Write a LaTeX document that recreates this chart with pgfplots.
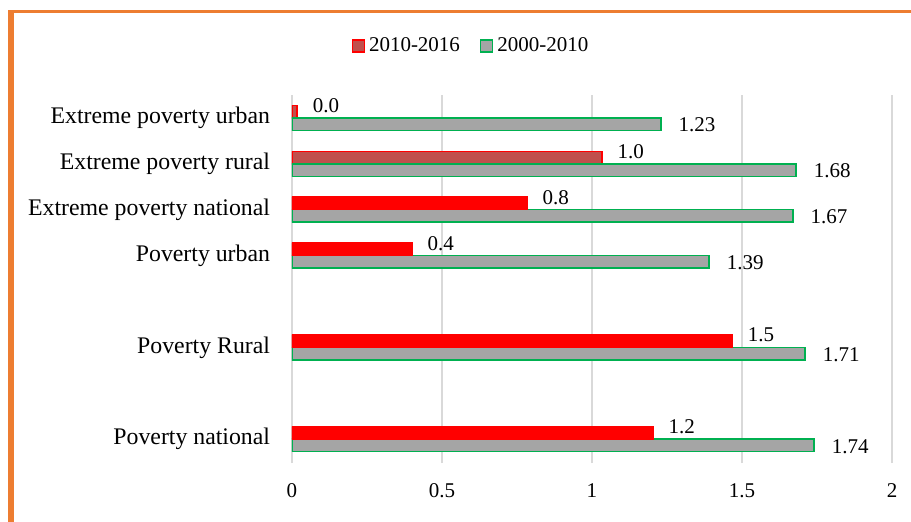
\documentclass[border=0pt]{standalone}
\usepackage{fontspec}
\setmainfont{Liberation Serif}
\usepackage{pgfplots}
\pgfplotsset{compat=1.18}
\definecolor{darkred}{HTML}{C0504D}
\definecolor{barred}{HTML}{FF0000}
\definecolor{bargray}{HTML}{A5A5A5}
\definecolor{bargreen}{HTML}{00B050}
\definecolor{gridgray}{HTML}{D9D9D9}
\definecolor{frameorange}{HTML}{ED7D31}

\pgfplotsset{
    squarelegend/.style={legend image code/.code={%
        \draw[##1, line width=0.75pt] (0pt,-3pt) rectangle (6pt,3pt);}},
    barlabel/.style={every node near coord/.append style={font=\fontsize{10.5}{12}\selectfont,
        text=black, inner sep=0pt, anchor=west, #1}},
}

\begin{document}
\begin{tikzpicture}
% picture frame: 911x521 px, 1 px = 0.5pt, origin = lower left of plot area
\path[use as bounding box] (-146pt,-29pt) rectangle (309.5pt,231.5pt);

\begin{axis}[
    scale only axis, width=300pt, height=184pt,
    at={(0,0)}, anchor=south west,
    xbar, bar width=6.25pt,
    xmin=0, xmax=2, ymin=-0.52, ymax=7.5,
    axis line style={draw=none},
    tick style={draw=none},
    xtick={0,0.5,1,1.5,2},
    xmajorgrids,
    grid style={gridgray, line width=0.75pt},
    ytick={0,2,4,5,6,7},
    yticklabels={Poverty national, Poverty Rural, Poverty urban,
                 Extreme poverty national, Extreme poverty rural, Extreme poverty urban},
    yticklabel style={font=\fontsize{11.9}{14}\selectfont, inner sep=0pt, xshift=-6.5pt},
    xticklabel style={font=\fontsize{10.5}{12}\selectfont, inner sep=0pt, yshift=-10pt},
    /pgf/number format/assume math mode=true,
    point meta=x,
    legend style={at={(0.3,1.133)}, anchor=center, draw=none, fill=none,
        legend columns=2, font=\fontsize{10.5}{12}\selectfont,
        /tikz/every even column/.append style={column sep=8pt}},
]

% 2010-2016 (dark fill, the legend entry)
\addplot[xbar, bar shift=3.125pt, fill=darkred, draw=barred, line width=0.75pt, squarelegend,
    nodes near coords={\pgfmathprintnumber[fixed, fixed zerofill, precision=1]{\pgfplotspointmeta}},
    barlabel={xshift=7.5pt, yshift=3pt}]
    coordinates {(1.033,6) (0.017,7)};
\addlegendentry{2010-2016}

% 2000-2010
\addplot[xbar, bar shift=-3.125pt, fill=bargray, draw=bargreen, line width=0.75pt, squarelegend,
    nodes near coords={\pgfmathprintnumber[fixed, fixed zerofill, precision=2]{\pgfplotspointmeta}},
    barlabel={xshift=8.5pt, yshift=-0.5pt}]
    coordinates {(1.74,0) (1.71,2) (1.39,4) (1.67,5) (1.68,6) (1.23,7)};
\addlegendentry{2000-2010}

% 2010-2016 (plain red bars)
\addplot[xbar, bar shift=3.125pt, fill=barred, draw=barred, line width=0.75pt, forget plot,
    nodes near coords={\pgfmathprintnumber[fixed, fixed zerofill, precision=1]{\pgfplotspointmeta}},
    barlabel={xshift=7.5pt, yshift=3pt}]
    coordinates {(1.203,0) (1.467,2) (0.4,4) (0.783,5)};

\end{axis}

% orange frame
\draw[frameorange, line width=2.75pt] (-140.5pt,-40pt) -- (-140.5pt,226.5pt);
\draw[frameorange, line width=1.75pt] (-141.9pt,225.75pt) -- (312pt,225.75pt);
\end{tikzpicture}
\end{document}
